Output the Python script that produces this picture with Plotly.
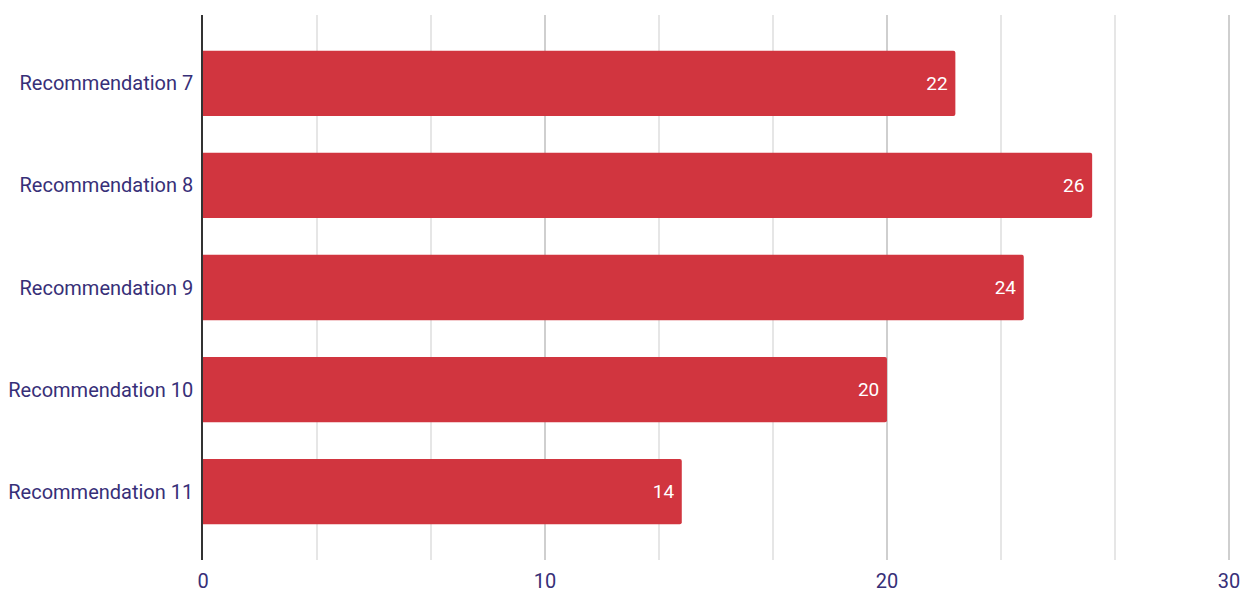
import plotly.graph_objects as go

categories = ["Recommendation 7", "Recommendation 8", "Recommendation 9",
              "Recommendation 10", "Recommendation 11"]
values = [22, 26, 24, 20, 14]
x_ticks = [0, 10, 20, 30]

label_color = "#372f78"
bar_color = "#d1353f"

fig = go.Figure(
    go.Bar(
        x=values,
        y=categories,
        orientation="h",
        marker=dict(color=bar_color, line=dict(width=0)),
        text=[f"{v}\u00a0" for v in values],
        textposition="inside",
        insidetextanchor="end",
        textfont=dict(family="Roboto", size=19, color="white"),
        cliponaxis=False,
    )
)

fig.update_layout(
    width=1243,
    height=592,
    margin=dict(l=203, r=12, t=15, b=32, autoexpand=False),
    paper_bgcolor="white",
    plot_bgcolor="white",
    bargap=0.36,
    barcornerradius=2,
    showlegend=False,
    font=dict(family="Roboto", size=20, color=label_color),
)

# range runs a hair past 30 so the last gridline stays visible
fig.update_xaxes(
    range=[0, 30.06],
    tickvals=x_ticks,
    automargin=False,
    showgrid=True,
    gridcolor="#cfcfcf",
    gridwidth=1.5,
    minor=dict(dtick=10 / 3, showgrid=True, gridcolor="#e6e6e6", gridwidth=1.5),
    zeroline=False,
    showline=False,
    ticks="",
    ticklabelstandoff=7,
    tickfont=dict(family="Roboto", size=20, color=label_color),
)

fig.update_yaxes(
    categoryorder="array",
    categoryarray=categories,
    range=[4.67, -0.67],
    automargin=False,
    showgrid=False,
    showline=True,
    linecolor="#333333",
    linewidth=1.5,
    ticks="",
    ticklabelstandoff=4,
    tickfont=dict(family="Roboto", size=20, color=label_color),
)

fig.write_html("out.html")
